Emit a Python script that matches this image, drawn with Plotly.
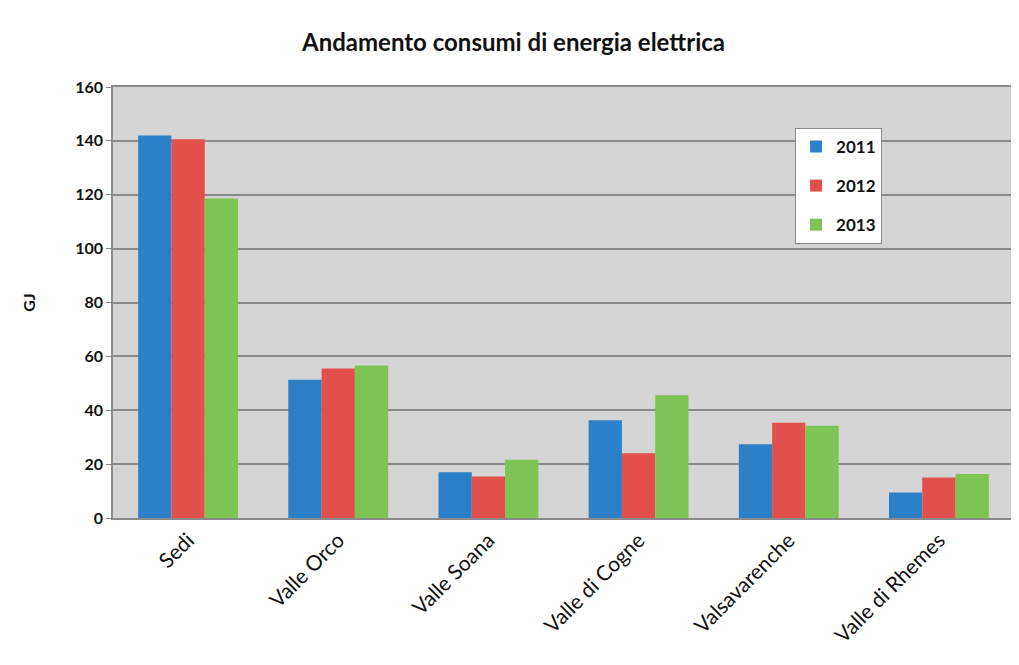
import plotly.graph_objects as go

categories = ["Sedi", "Valle Orco", "Valle Soana", "Valle di Cogne", "Valsavarenche", "Valle di Rhemes"]
years = ["2011", "2012", "2013"]
v2011 = [142, 51.3, 17, 36.3, 27.4, 9.5]
v2012 = [140.6, 55.5, 15.4, 24, 35.4, 15]
v2013 = [118.6, 56.6, 21.6, 45.6, 34.2, 16.3]
colors = ["#2b80c8", "#e2504c", "#7ec455"]

font_family = "Lato, 'Open Sans', sans-serif"

fig = go.Figure()
for name, vals, col in zip(years, [v2011, v2012, v2013], colors):
    fig.add_trace(go.Bar(x=categories, y=vals, name="<b>" + name + "</b>",
                         marker=dict(color=col, line=dict(width=0)), legendgroup=name))

fig.update_layout(
    width=1011, height=657,
    margin=dict(l=105, r=3, t=79, b=147),
    paper_bgcolor="white",
    plot_bgcolor="#d4d4d4",
    barmode="group",
    bargap=0.335,
    bargroupgap=0,
    title=dict(text="<b>Andamento consumi di energia elettrica</b>", x=0.5, xanchor="center",
               y=0.947, yanchor="middle", font=dict(family=font_family, size=24, color="#111111")),
    font=dict(family=font_family, color="#111111"),
    legend=dict(x=0.757, y=0.905, xanchor="left", yanchor="top",
                bgcolor="white", bordercolor="#8a8a8a", borderwidth=1,
                font=dict(size=17, family=font_family, color="#111111"),
                traceorder="grouped", tracegroupgap=14, itemwidth=30),
    showlegend=True,
)
fig.update_yaxes(range=[0, 160], dtick=20, showgrid=True, gridcolor="#8a8a8a", gridwidth=1.5,
                 showline=True, linecolor="#8a8a8a", linewidth=1.5, mirror=True,
                 ticks="outside", ticklen=5, tickcolor="#8a8a8a",
                 tickprefix="<b>", ticksuffix="</b>",
                 tickfont=dict(size=16, family=font_family, color="#111111"),
                 title=dict(text="<b>GJ</b>", font=dict(size=16, family=font_family, color="#111111"), standoff=36),
                 zeroline=False)
fig.update_xaxes(showline=True, linecolor="#8a8a8a", linewidth=1.5, mirror=True,
                 tickangle=-45, tickfont=dict(size=21, family=font_family, color="#111111"),
                 ticks="", showgrid=False)

fig.write_html("out.html")
